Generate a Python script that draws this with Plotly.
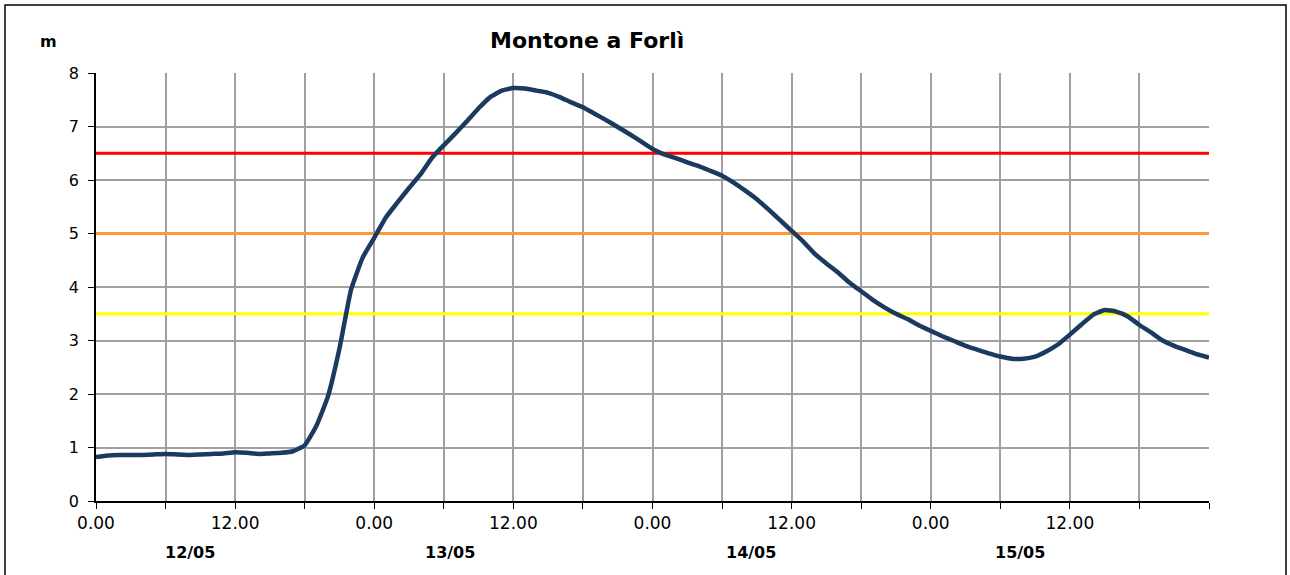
import plotly.graph_objects as go

hours = list(range(0, 97))
level = [0.82, 0.85, 0.86, 0.86, 0.86, 0.87, 0.88, 0.87, 0.86, 0.87,
         0.88, 0.89, 0.91, 0.90, 0.88, 0.89, 0.90, 0.93, 1.04, 1.40,
         1.95, 2.85, 3.95, 4.55, 4.92, 5.30, 5.58, 5.85, 6.11, 6.42,
         6.65, 6.87, 7.10, 7.34, 7.55, 7.67, 7.72, 7.71, 7.67, 7.63,
         7.55, 7.45, 7.36, 7.24, 7.12, 6.99, 6.86, 6.72, 6.58, 6.48,
         6.41, 6.33, 6.26, 6.17, 6.08, 5.95, 5.80, 5.64, 5.45, 5.25,
         5.05, 4.85, 4.62, 4.44, 4.27, 4.08, 3.92, 3.76, 3.62, 3.50,
         3.40, 3.28, 3.18, 3.08, 2.99, 2.90, 2.83, 2.76, 2.70, 2.66,
         2.66, 2.70, 2.80, 2.93, 3.11, 3.30, 3.48, 3.57, 3.54, 3.45,
         3.29, 3.15, 3.00, 2.90, 2.82, 2.74, 2.68]

thresholds = [3.5, 5.0, 6.5]
threshold_colors = ["#FFFF00", "#FF9933", "#FF0000"]

tick_hours = list(range(0, 97, 6))
tick_text = ["0.00", "", "12.00", "", "0.00", "", "12.00", "", "0.00", "",
             "12.00", "", "0.00", "", "12.00", "", ""]
date_labels = ["12/05", "13/05", "14/05", "15/05"]
date_pos = [8.1, 30.5, 56.5, 79.7]

FONT = "DejaVu Sans"
L, R, T, B = 96, 1209, 73, 501
PW, PH = R - L, B - T

fig = go.Figure()
for t, c in zip(thresholds, threshold_colors):
    fig.add_trace(go.Scatter(x=[hours[0], hours[-1]], y=[t, t], mode="lines",
                             line=dict(color=c, width=3), hoverinfo="skip",
                             showlegend=False))
fig.add_trace(go.Scatter(x=hours, y=level, mode="lines",
                         line=dict(color="#1B3A60", width=4.5, shape="spline", smoothing=0.4),
                         showlegend=False))

for lbl, p in zip(date_labels, date_pos):
    fig.add_annotation(x=p, xref="x", y=(B - 552) / PH, yref="paper",
                       text="<b>" + lbl + "</b>",
                       showarrow=False, font=dict(size=16, color="black", family=FONT),
                       xanchor="center", yanchor="middle")

fig.add_annotation(x=(587 - L) / PW, xref="paper", y=(B - 40) / PH, yref="paper",
                   text="<b>Montone a Forlì</b>", showarrow=False,
                   font=dict(size=22, color="black", family=FONT),
                   xanchor="center", yanchor="middle")
fig.add_annotation(x=(48 - L) / PW, xref="paper", y=(B - 42) / PH, yref="paper",
                   text="<b>m</b>", showarrow=False,
                   font=dict(size=16, color="black", family=FONT),
                   xanchor="center", yanchor="middle")

fig.add_shape(type="rect", xref="paper", yref="paper",
              x0=(5 - L) / PW, x1=(1286 - L) / PW, y0=-0.3, y1=(B - 5) / PH,
              line=dict(color="black", width=1.5), layer="below")

fig.update_layout(
    width=1290, height=575,
    margin=dict(l=L, r=1290 - R, t=T, b=575 - B),
    paper_bgcolor="white", plot_bgcolor="white",
    font=dict(family=FONT, color="black"),
    xaxis=dict(range=[0, 96], tickmode="array", tickvals=tick_hours,
               ticktext=tick_text, showgrid=True, gridcolor="#A0A0A0",
               gridwidth=1.5, showline=True, linecolor="black", linewidth=1.5,
               ticks="outside", ticklen=6, tickcolor="black",
               tickfont=dict(size=17), zeroline=False),
    yaxis=dict(range=[0, 8], tickmode="array", tickvals=list(range(0, 9)),
               showgrid=True, gridcolor="#A0A0A0", gridwidth=1.5,
               showline=True, linecolor="black", linewidth=1.5,
               ticks="outside", ticklen=6, tickcolor="black",
               tickfont=dict(size=16), zeroline=False, ticklabelstandoff=6),
)

fig.write_html("out.html", config={"displayModeBar": False},
               post_script="document.body.style.margin='0';document.body.style.overflow='hidden';")
